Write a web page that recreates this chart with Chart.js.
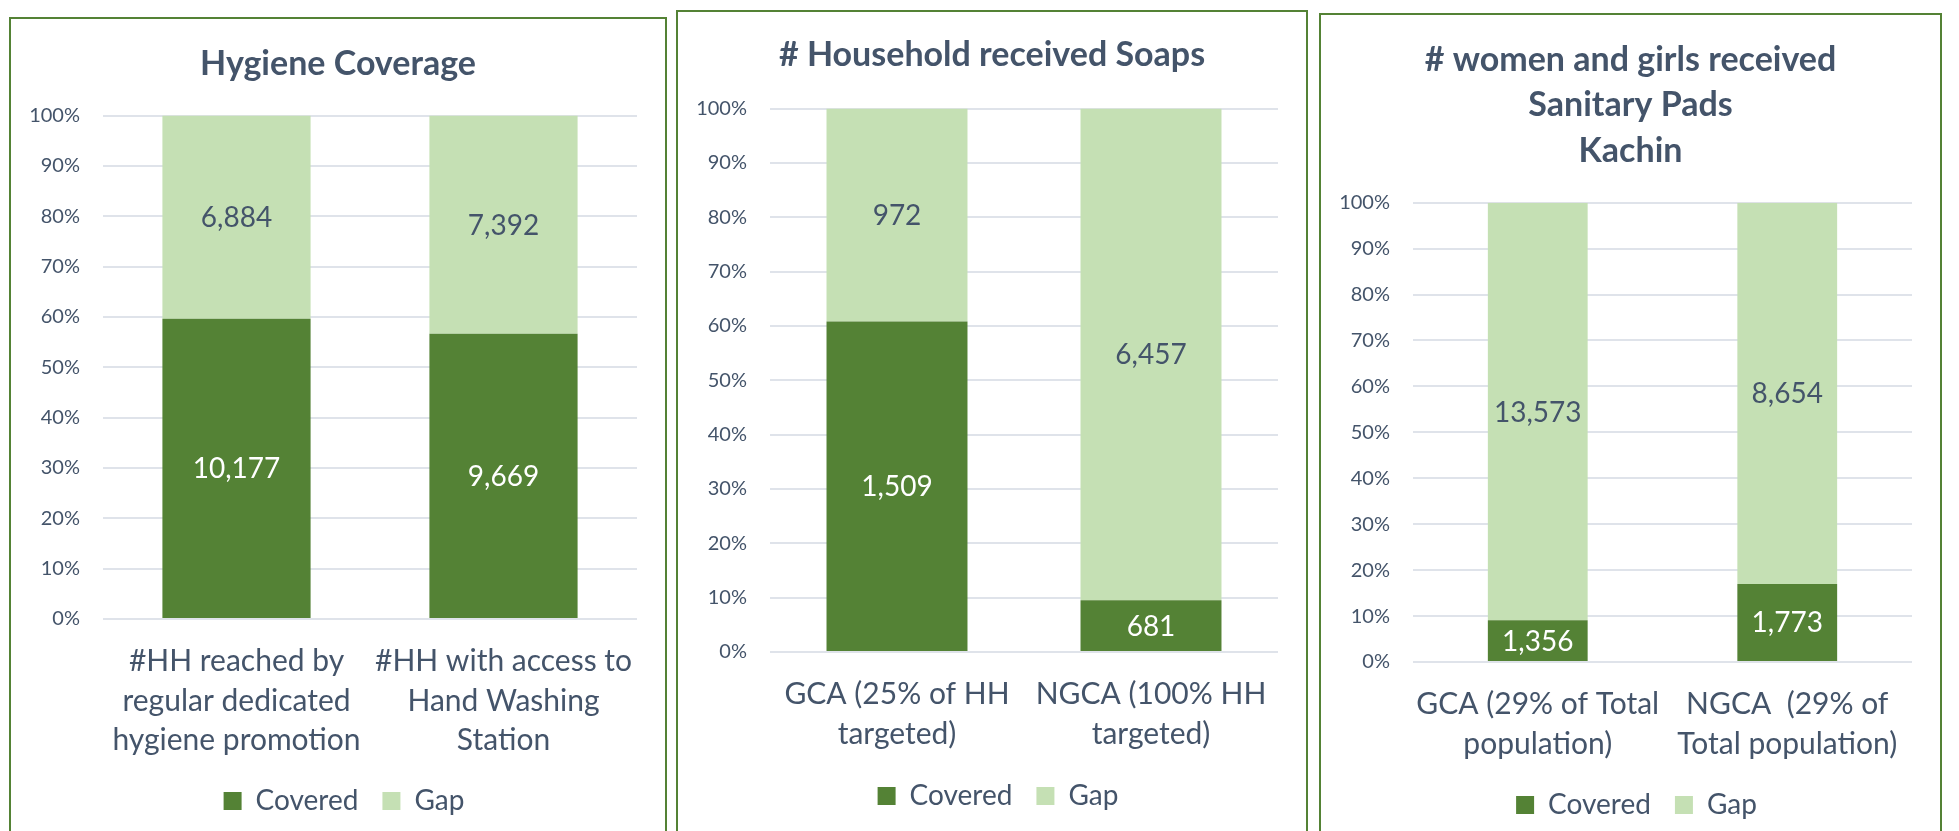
<!DOCTYPE html>
<html>
<head>
<meta charset="utf-8">
<script src="https://cdn.jsdelivr.net/npm/chart.js@4"></script>
<style>
  html, body { margin: 0; padding: 0; background: #fff; overflow: hidden; }
  body { width: 1959px; height: 831px; position: relative; }
  .panel { position: absolute; border: 2px solid #548235; background: #fff; }
  .panel canvas { display: block; }
</style>
</head>
<body>
<div class="panel" id="p1" style="left:9px;top:17px;width:654px;height:840px"><canvas id="c1" width="654" height="812"></canvas></div>
<div class="panel" id="p2" style="left:676px;top:10px;width:628px;height:840px"><canvas id="c2" width="628" height="819"></canvas></div>
<div class="panel" id="p3" style="left:1319px;top:13px;width:619px;height:840px"><canvas id="c3" width="619" height="816"></canvas></div>
<script>
// 범례 / 시리즈 이름
const seriesNames = ['Covered', 'Gap'];

// 1) Hygiene Coverage
const hygieneCats = [['#HH reached by', 'regular dedicated', 'hygiene promotion'], ['#HH with access to', 'Hand Washing', 'Station']];
const hygieneCovered = [10177, 9669];
const hygieneGap = [6884, 7392];

// 2) # Household received Soaps
const soapCats = [['GCA (25% of HH', 'targeted)'], ['NGCA (100% HH', 'targeted)']];
const soapCovered = [1509, 681];
const soapGap = [972, 6457];

// 3) # women and girls received Sanitary Pads - Kachin
const padCats = [['GCA (29% of Total', 'population)'], ['NGCA  (29% of', 'Total population)']];
const padCovered = [1356, 1773];
const padGap = [13573, 8654];

const DARK = '#548235';
const LIGHT = '#C5E0B4';
const TEXT = '#44546A';
const GRID = '#DFE3EA';

Chart.defaults.font.family = 'Lato, "Open Sans", sans-serif';
Chart.defaults.color = TEXT;

// 막대 가운데에 원래 값 표시
const valueLabels = {
  id: 'valueLabels',
  afterDatasetsDraw(chart) {
    const ctx = chart.ctx;
    ctx.save();
    ctx.font = '28px Lato, "Open Sans", sans-serif';
    ctx.textAlign = 'center';
    ctx.textBaseline = 'middle';
    chart.data.datasets.forEach((ds, di) => {
      const meta = chart.getDatasetMeta(di);
      ctx.fillStyle = di === 0 ? '#ffffff' : TEXT;
      meta.data.forEach((bar, i) => {
        const p = bar.getProps(['x', 'y', 'base'], true);
        ctx.fillText(ds.raw[i].toLocaleString('en-US'), p.x, (p.y + p.base) / 2 + 1);
      });
    });
    ctx.restore();
  }
};

// 제목/범례를 엑셀처럼 조금 오른쪽으로
const nudge = {
  id: 'nudge',
  afterLayout(chart) {
    const t = chart.titleBlock, l = chart.legend;
    if (t) { t.left += 14; t.right += 14; }
    if (l) { l.left += 20; l.right += 20; }
  }
};

function share(a, b) {
  return a.map((v, i) => v / (v + b[i]) * 100);
}

function makeChart(id, o) {
  new Chart(document.getElementById(id), {
    type: 'bar',
    data: {
      labels: o.cats,
      datasets: [
        { label: seriesNames[0], data: share(o.covered, o.gap), raw: o.covered, backgroundColor: DARK },
        { label: seriesNames[1], data: share(o.gap, o.covered), raw: o.gap, backgroundColor: LIGHT },
      ],
    },
    options: {
      responsive: false,
      animation: false,
      layout: { padding: { left: 0, right: 28, top: 0, bottom: o.padBottom } },
      datasets: { bar: { categoryPercentage: 1, barPercentage: o.barPct } },
      plugins: {
        title: {
          display: true,
          text: o.title,
          color: TEXT,
          font: { size: 34, weight: 'bold', lineHeight: 1.34 },
          padding: { top: o.titleTop, bottom: o.titleBottom },
        },
        legend: {
          position: 'bottom',
          labels: { boxWidth: 18, boxHeight: 18, padding: 24, color: TEXT, font: { size: 28 } },
        },
        tooltip: { enabled: false },
      },
      scales: {
        x: {
          stacked: true,
          grid: { display: false },
          border: { display: false },
          ticks: { color: TEXT, padding: 14, maxRotation: 0, autoSkip: false, font: { size: 30, lineHeight: 1.33 } },
          afterFit: (s) => { s.height = o.xH; },
        },
        y: {
          stacked: true,
          min: 0,
          max: 100,
          grid: { color: GRID, lineWidth: 2, drawTicks: false },
          border: { display: false },
          ticks: { stepSize: 10, padding: 23, color: TEXT, font: { size: 20 }, callback: (v) => v + '%' },
          afterFit: (s) => { s.width = 92; },
        },
      },
    },
    plugins: [valueLabels, nudge],
  });
}

makeChart('c1', {
  title: 'Hygiene Coverage', cats: hygieneCats, covered: hygieneCovered, gap: hygieneGap,
  barPct: 0.555, padBottom: 6, titleTop: 22, titleBottom: 29, xH: 144,
});
makeChart('c2', {
  title: '# Household received Soaps', cats: soapCats, covered: soapCovered, gap: soapGap,
  barPct: 0.555, padBottom: 11, titleTop: 20, titleBottom: 31, xH: 106,
});
makeChart('c3', {
  title: ['# women and girls received', 'Sanitary Pads', 'Kachin'], cats: padCats, covered: padCovered, gap: padGap,
  barPct: 0.40, padBottom: 2, titleTop: 22, titleBottom: 29, xH: 105,
});
</script>
</body>
</html>
